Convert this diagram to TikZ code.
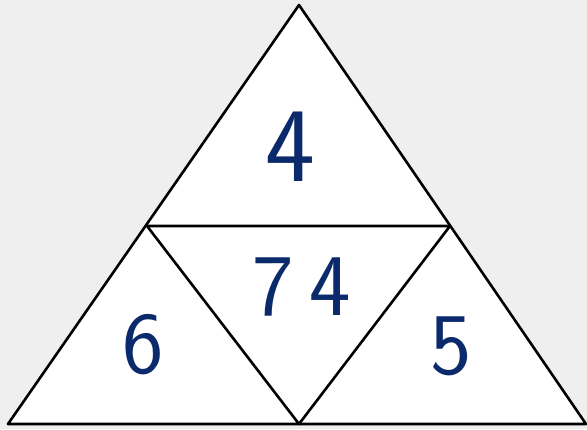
\documentclass[tikz,border=0pt]{standalone}
\usepackage{fontspec}
\definecolor{bg}{HTML}{EFEFEF}
\definecolor{ink}{HTML}{0B2A6B}
\tikzset{
  num/.style={text=ink, font=\sffamily\fontsize{106}{106}\selectfont, inner sep=0pt},
  small/.style={font=\sffamily\fontsize{88}{88}\selectfont},
  edge/.style={draw=black, line width=2.6pt, line join=round}
}
\begin{document}
\begin{tikzpicture}[x=1pt,y=-1pt]
\fill[bg] (0,0) rectangle (587,429);
\useasboundingbox (0,0) rectangle (587,429);
\coordinate (A) at (299,5);
\coordinate (L) at (8,424);
\coordinate (R) at (586,424);
\coordinate (ML) at (147,226);
\coordinate (MR) at (450,226);
\coordinate (MB) at (299,424);
\fill[white] (A) -- (L) -- (R) -- cycle;
\draw[edge] (A) -- (L) -- (R) -- cycle;
\draw[edge] (ML) -- (MR) -- (MB) -- cycle;
\node[num] (n4) at (290,147) {4};
\node[num, small] (n74) at (302,287) {7\kern16pt4};
\node[num, small] (n6) at (143,345) {6};
\node[num, small] (n5) at (451,346) {5};
\end{tikzpicture}
\end{document}
